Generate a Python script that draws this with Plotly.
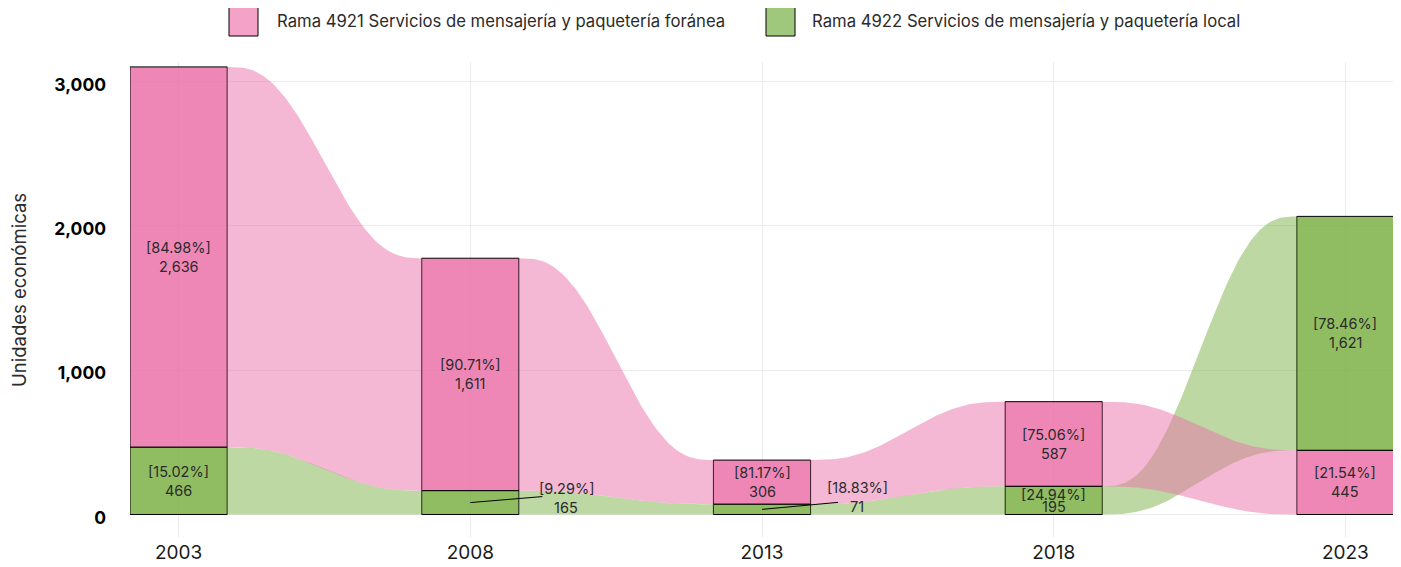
import numpy as np
import plotly.graph_objects as go

# datos
anios = [2003, 2008, 2013, 2018, 2023]
foranea = [2636, 1611, 306, 587, 445]   # Rama 4921
local = [466, 165, 71, 195, 1621]       # Rama 4922
nombres = ["Rama 4921 Servicios de mensajería y paquetería foránea",
           "Rama 4922 Servicios de mensajería y paquetería local"]

rosa = (236, 114, 169)
verde = (124, 178, 70)

def rgba(c, a):
    return f"rgba({c[0]},{c[1]},{c[2]},{a})"

# la pagina html deja 8px de margen en body
OFF = 8
ancho = 5 / 3
W, H = 1401 - OFF, 567 - OFF
m_l, m_r, m_t, m_b = 130 - OFF, 7, 62 - OFF, 30
x_rango = [anios[0] - ancho / 2, anios[-1] + ancho / 2]
y_rango = [-156, 3136]
px_anio = (W - m_l - m_r) / (x_rango[1] - x_rango[0])
px_unidad = (H - m_t - m_b) / (y_rango[1] - y_rango[0])

# apilado: el segmento mas chico abajo
series = {"f": foranea, "l": local}
base = {"f": [], "l": []}
for i in range(len(anios)):
    if foranea[i] >= local[i]:
        base["l"].append(0)
        base["f"].append(local[i])
    else:
        base["f"].append(0)
        base["l"].append(foranea[i])
colores = {"f": rosa, "l": verde}

fig = go.Figure()

# flujos (verde primero, rosa encima)
t = np.linspace(0, 1, 80)
s = 6 * t**5 - 15 * t**4 + 10 * t**3
for k in ["l", "f"]:
    for i in range(len(anios) - 1):
        x0 = anios[i] + ancho / 2
        x1 = anios[i + 1] - ancho / 2
        xs = x0 + (x1 - x0) * t
        b0, b1 = base[k][i], base[k][i + 1]
        t0, t1 = b0 + series[k][i], b1 + series[k][i + 1]
        arriba = t0 + (t1 - t0) * s
        abajo = b0 + (b1 - b0) * s
        fig.add_trace(go.Scatter(
            x=np.concatenate([xs, xs[::-1]]),
            y=np.concatenate([arriba, abajo[::-1]]),
            fill="toself", fillcolor=rgba(colores[k], 0.5),
            line=dict(width=0), mode="lines", hoverinfo="skip", showlegend=False))

# barras
for k in ["f", "l"]:
    fig.add_trace(go.Bar(
        x=anios, y=series[k], base=base[k], width=ancho,
        marker=dict(color=rgba(colores[k], 0.85), line=dict(color="black", width=1)),
        hoverinfo="skip", showlegend=False))

# etiquetas
fuera = {(2008, "l"): (96, 5, 72, 6), (2013, "l"): (95, 12, 76, 7)}
apretado = {(2018, "l"): 12.5}
for k in ["f", "l"]:
    for i, a in enumerate(anios):
        v = series[k][i]
        pct = 100 * v / (foranea[i] + local[i])
        medio = base[k][i] + v / 2
        xl, yl = a, medio
        if (a, k) in fuera:
            dx, dy, lx, ly = fuera[(a, k)]
            xl = a + dx / px_anio
            yl = medio + dy / px_unidad
            fig.add_shape(type="line", x0=a, y0=medio,
                          x1=a + lx / px_anio, y1=medio + ly / px_unidad,
                          line=dict(color="black", width=1))
        esp = apretado.get((a, k), 19)
        for txt, sh in [(f"[{pct:.2f}%]", esp / 2), (f"{v:,}", -esp / 2)]:
            fig.add_annotation(x=xl, y=yl, text=txt, showarrow=False, yshift=sh,
                               font=dict(family="Inter", size=14.5, color="#2b2b2b"))

# leyenda manual (pixeles de la imagen de referencia)
def px_x(p):
    return (p - OFF - m_l) / (W - m_l - m_r)

def px_y(p):
    return (H - m_b - (p - OFF)) / (H - m_t - m_b)

ley = [(229, 275, (244, 162, 199)), (766, 810, (160, 200, 124))]
for (sx, tx, col), nombre in zip(ley, nombres):
    fig.add_shape(type="rect", xref="paper", yref="paper",
                  x0=px_x(sx), x1=px_x(sx + 29), y0=px_y(36), y1=px_y(5),
                  fillcolor=rgba(col, 1), line=dict(color="black", width=1))
    fig.add_annotation(xref="paper", yref="paper", x=px_x(tx), y=px_y(21),
                       text=nombre, showarrow=False, xanchor="left", yanchor="middle",
                       font=dict(family="Inter", size=16.7, color="#2b2b2b"))

fig.add_annotation(xref="paper", yref="paper", x=px_x(19), y=px_y(290),
                   text="Unidades económicas", textangle=-90, showarrow=False,
                   xanchor="center", yanchor="middle", borderpad=0,
                   font=dict(family="Inter", size=18.5, color="#2b2b2b"))

fig.update_xaxes(range=x_rango, tickvals=anios, ticktext=[str(a) for a in anios],
                 showgrid=True, gridcolor="#ebebeb", gridwidth=1, zeroline=False,
                 showline=False, ticks="", ticklabelstandoff=2, automargin=False,
                 tickfont=dict(family="Inter", size=19, color="#1a1a1a"))
fig.update_yaxes(range=y_rango, tickvals=[0, 1000, 2000, 3000], tickformat=",",
                 showgrid=True, gridcolor="#ebebeb", gridwidth=1, zeroline=False,
                 showline=False, ticks="", ticklabelstandoff=23, ticklabelshift=3,
                 automargin=False,
                 tickfont=dict(family="Inter", size=17.5, weight="bold", color="black"))
fig.update_layout(width=W, height=H, plot_bgcolor="white", paper_bgcolor="white",
                  margin=dict(l=m_l, r=m_r, t=m_t, b=m_b), barmode="overlay",
                  showlegend=False)

fig.write_html("out.html")
